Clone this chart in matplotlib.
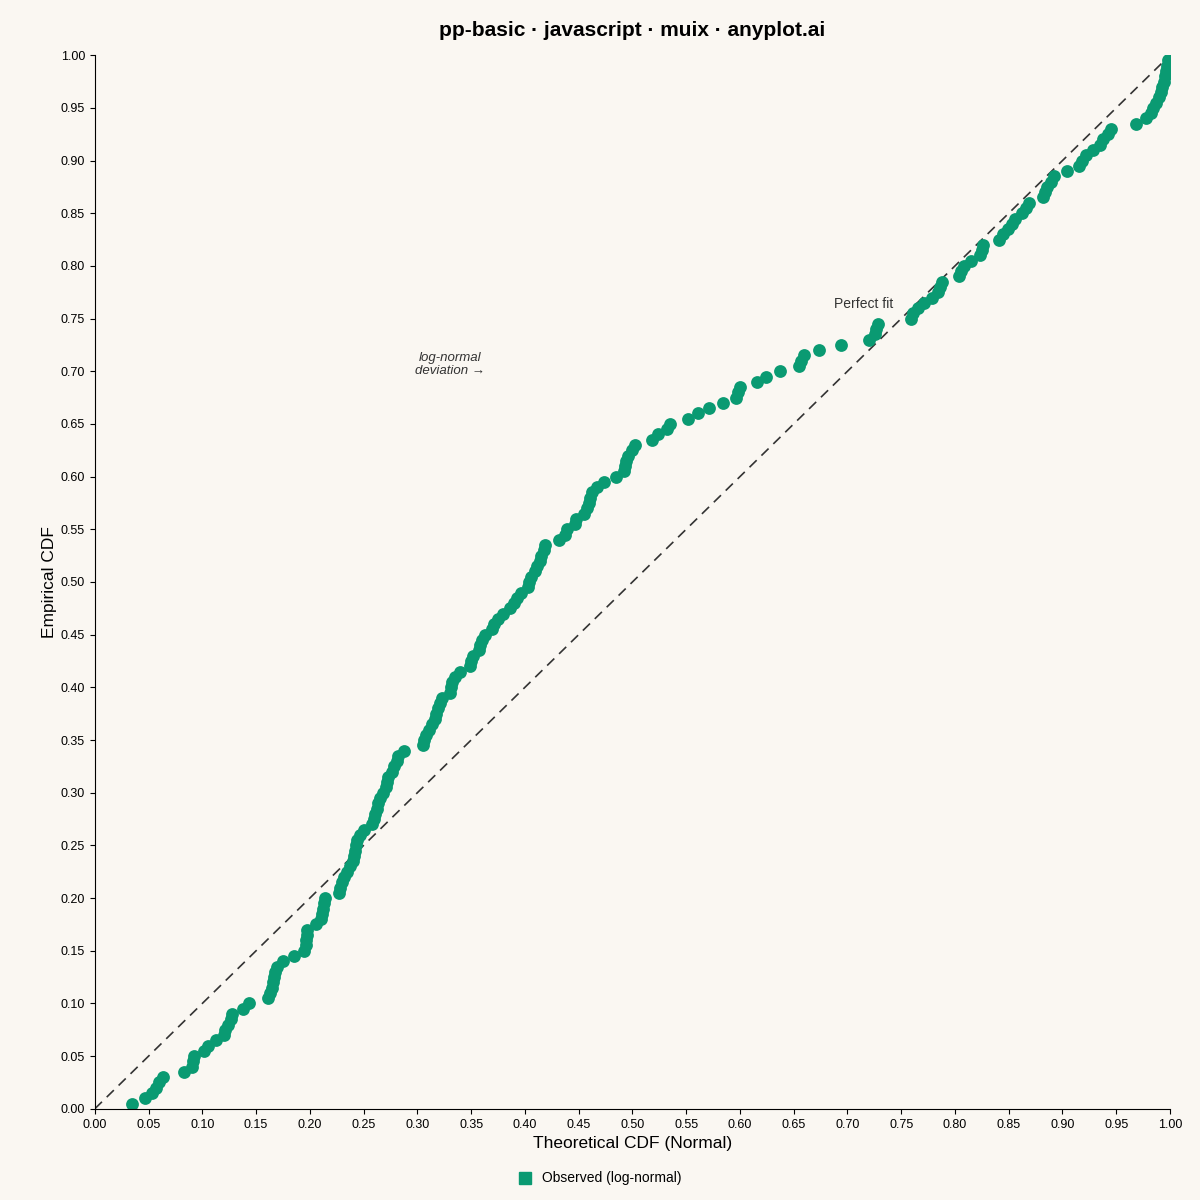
import matplotlib
matplotlib.use("Agg")
import matplotlib.pyplot as plt
import numpy as np
from matplotlib.lines import Line2D

plt.rcParams['font.family'] = ['Liberation Sans', 'DejaVu Sans']

theoretical = [0.035,0.047,0.053,0.057,0.060,0.063,0.083,0.090,0.091,0.092,0.102,0.105,0.113,0.120,0.121,0.124,0.127,0.128,0.138,0.143,
0.161,0.163,0.165,0.166,0.167,0.168,0.169,0.175,0.185,0.195,0.196,0.196,0.197,0.197,0.206,0.210,0.211,0.212,0.213,0.214,
0.227,0.228,0.230,0.232,0.235,0.237,0.240,0.241,0.242,0.243,0.244,0.247,0.250,
0.258,0.260,0.261,0.262,0.263,0.265,0.268,0.271,0.272,0.273,0.276,0.278,0.281,0.282,0.288,
0.305,0.306,0.308,0.311,0.314,0.316,0.317,0.319,0.321,0.323,0.330,0.331,0.332,0.335,0.340,
0.349,0.350,0.352,0.357,0.358,0.360,0.363,0.369,0.371,0.375,0.380,0.386,0.390,0.393,0.396,0.403,0.404,0.406,0.409,0.411,0.414,0.415,0.418,0.419,
0.432,0.437,0.439,0.447,0.448,0.455,0.458,0.460,0.461,0.462,0.467,0.474,0.485,
0.492,0.493,0.494,0.496,0.500,0.502,
0.518,0.524,0.532,0.535,0.552,0.561,0.571,0.584,0.596,0.598,0.600,0.616,0.624,0.637,0.655,0.657,0.660,0.674,0.694,
0.720,0.726,0.727,0.728,
0.759,0.761,0.766,0.771,0.779,0.784,0.786,0.788,
0.804,0.806,0.808,0.815,0.823,0.825,0.826,
0.841,0.845,0.849,0.853,0.856,0.862,0.866,0.869,
0.882,0.884,0.886,0.889,0.892,0.904,0.915,0.918,0.922,0.928,0.935,0.938,0.942,0.945,
0.968,0.978,0.982,0.984,0.987,0.990,0.992,0.993,0.994,0.995,0.996,0.997,0.998]
empirical = [(i + 1) * 0.005 for i in range(len(theoretical))]

bg = "#faf7f2"
fig = plt.figure(figsize=(12, 12), dpi=100, facecolor=bg)
ax = fig.add_axes([0.079, 0.076, 0.896, 0.878], facecolor=bg)
ax.plot([0, 1], [0, 1], ls=(0, (6, 4)), color="#333333", lw=1.2, zorder=1)
ax.scatter(theoretical, empirical, s=85, color="#0a9a72", zorder=2, linewidths=0)
ax.set_xlim(0, 1); ax.set_ylim(0, 1)
ticks = np.arange(0, 1.0001, 0.05)
ax.set_xticks(ticks); ax.set_yticks(ticks)
ax.set_xticklabels([f"{t:.2f}" for t in ticks], fontsize=9)
ax.set_yticklabels([f"{t:.2f}" for t in ticks], fontsize=9)
for s in ["top", "right"]:
    ax.spines[s].set_visible(False)
ax.set_xlabel("Theoretical CDF (Normal)", fontsize=12.5, labelpad=4)
ax.set_ylabel("Empirical CDF", fontsize=12.5)
ax.yaxis.set_label_coords(-0.035, 0.5)
ax.set_title("pp-basic · javascript · muix · anyplot.ai", fontsize=15, fontweight="bold", pad=14)
ax.text(0.715, 0.76, "Perfect fit", ha="center", fontsize=10, color="#333333")
ax.text(0.33, 0.697, "log-normal\ndeviation →", ha="center", fontsize=9.5, style="italic", color="#333333")
h = [Line2D([], [], marker="s", ls="", color="#0a9a72", markersize=8)]
fig.legend(h, ["Observed (log-normal)"], loc="center", bbox_to_anchor=(0.497, 0.018),
           frameon=False, fontsize=10, handletextpad=0.2)
fig.savefig("out.png", dpi=100, facecolor=bg)
